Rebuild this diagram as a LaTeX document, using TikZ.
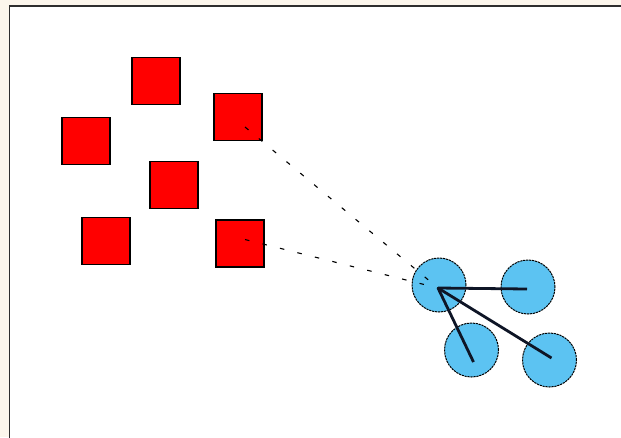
\documentclass[tikz,border=0pt]{standalone}
\usetikzlibrary{calc}
\definecolor{paper}{HTML}{FCF6EC}
\definecolor{framegray}{HTML}{2E2E2E}
\definecolor{boxred}{HTML}{FF0000}
\definecolor{skyblue}{HTML}{5CC3F2}
\definecolor{inkdark}{HTML}{0E1526}

\begin{document}
\begin{tikzpicture}[
  x=1pt, y=-1pt,
  sqbox/.style={draw=black, line width=1.2pt, fill=boxred, inner sep=0pt,
    minimum width=48pt, minimum height=47pt},
  disc/.style={circle, draw=black, line width=1pt, dash pattern=on 2.2pt off 0.8pt,
    fill=skyblue, inner sep=0pt, minimum size=54pt},
  link/.style={line width=1.1pt, black, dash pattern=on 4.5pt off 13.5pt},
  tie/.style={line width=2.8pt, inkdark},
]

% Canvas
\useasboundingbox (0,0) rectangle (621,437);
\clip (0,0) rectangle (621,437);
\fill[paper] (0,0) rectangle (621,437);
\draw[framegray, line width=1.8pt, fill=white] (9.5,6) rectangle (640,460);

% =============================================
% Red squares
% =============================================
\node[sqbox] (sqA) at (156,81)    {};
\node[sqbox] (sqB) at (86,141)    {};
\node[sqbox] (sqC) at (238,117)   {};
\node[sqbox] (sqD) at (174,185)   {};
\node[sqbox] (sqE) at (106,241)   {};
\node[sqbox] (sqF) at (240,243.5) {};

% =============================================
% Blue circles
% =============================================
\node[disc] (c1) at (439,285)   {};
\node[disc] (c2) at (528,287)   {};
\node[disc] (c3) at (471.5,350) {};
\node[disc] (c4) at (549.5,360) {};

% Dashed links from the squares
\draw[link] ($(sqC.center)+(7,10)$) -- ($(c1.center)+(-1,3)$);
\draw[link] ($(sqF.center)+(5,-4)$) -- ($(c1.center)+(-1,3)$);

% Solid ties between the circles
\draw[tie] ($(c1.center)+(-1,3)$) -- ($(c2.center)+(-1,2)$);
\draw[tie] ($(c1.center)+(-1,3)$) -- ($(c3.center)+(2,12)$);
\draw[tie] ($(c1.center)+(-1,3)$) -- ($(c4.center)+(2,-2)$);

\end{tikzpicture}
\end{document}
